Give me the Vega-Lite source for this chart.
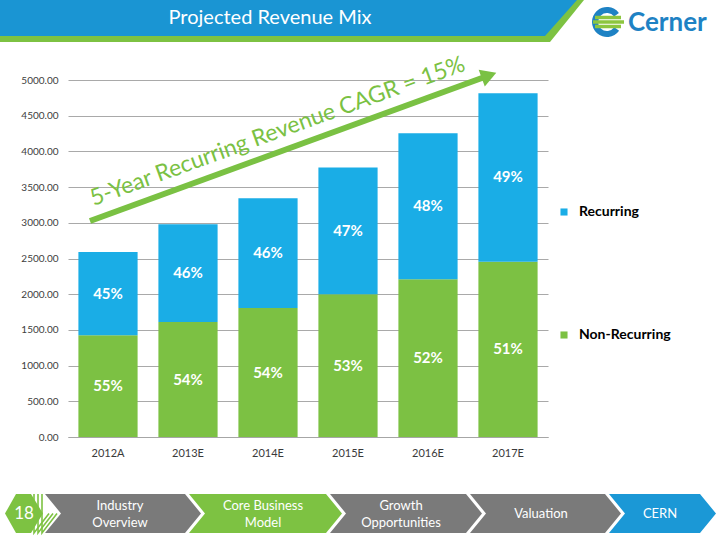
{
  "$schema": "https://vega.github.io/schema/vega-lite/v6.json",
  "width": 480,
  "height": 357,
  "autosize": {"type": "none"},
  "padding": {"left": 68, "top": 80, "right": 172, "bottom": 103},
  "background": "white",
  "config": {"view": {"stroke": null}, "font": "Lato"},
  "datasets": {
    "hdrBlue": [{"px": 0, "py": 0, "py2": 36}, {"px": 545, "py": 0, "py2": 36}, {"px": 577, "py": 0, "py2": 0}],
    "hdrGreen": [{"px": 0, "py": 0, "py2": 42}, {"px": 550, "py": 0, "py2": 42}, {"px": 584, "py": 0, "py2": 0}],
    "chevGray": [
      {"id": "a", "px": 45, "px2": 185, "py": 494}, {"id": "a", "px": 61, "px2": 201, "py": 513.5}, {"id": "a", "px": 45, "px2": 185, "py": 533},
      {"id": "c", "px": 330, "px2": 466, "py": 494}, {"id": "c", "px": 346, "px2": 482, "py": 513.5}, {"id": "c", "px": 330, "px2": 466, "py": 533},
      {"id": "d", "px": 470, "px2": 605, "py": 494}, {"id": "d", "px": 486, "px2": 621, "py": 513.5}, {"id": "d", "px": 470, "px2": 605, "py": 533}
    ],
    "chevGreen": [
      {"id": "h", "px": 16, "px2": 31, "py": 494}, {"id": "h", "px": 5, "px2": 43, "py": 513.5}, {"id": "h", "px": 16, "px2": 31, "py": 533},
      {"id": "b", "px": 189, "px2": 326, "py": 494}, {"id": "b", "px": 205, "px2": 342, "py": 513.5}, {"id": "b", "px": 189, "px2": 326, "py": 533}
    ],
    "chevBlue": [
      {"id": "e", "px": 609, "px2": 700, "py": 494}, {"id": "e", "px": 625, "px2": 716, "py": 513.5}, {"id": "e", "px": 609, "px2": 700, "py": 533}
    ],
    "chevLines": [
      {"id": "l1", "px": 34, "py": 494}, {"id": "l1", "px": 49, "py": 513.5}, {"id": "l1", "px": 34, "py": 533},
      {"id": "l2", "px": 38, "py": 494}, {"id": "l2", "px": 53, "py": 513.5}, {"id": "l2", "px": 38, "py": 533},
      {"id": "l3", "px": 42, "py": 494}, {"id": "l3", "px": 57, "py": 513.5}, {"id": "l3", "px": 42, "py": 533}
    ],
    "footText": [
      {"px": 120, "py": 506, "label": "Industry"}, {"px": 120, "py": 523, "label": "Overview"},
      {"px": 263, "py": 506, "label": "Core Business"}, {"px": 263, "py": 523, "label": "Model"},
      {"px": 401, "py": 506, "label": "Growth"}, {"px": 401, "py": 523, "label": "Opportunities"},
      {"px": 541, "py": 514, "label": "Valuation"}, {"px": 660, "py": 514, "label": "CERN"}
    ],
    "pageNum": [{"px": 24, "py": 514, "label": "18"}],
    "title": [{"px": 270, "py": 18, "label": "Projected Revenue Mix"}],
    "brand": [{"px": 628, "py": 23, "label": "Cerner"}],
    "logoArc": [{"px": 607, "py": 22}],
    "logoStripes": [{"px": 595, "px2": 621, "py": 17.5}, {"px": 593, "px2": 624, "py": 22}, {"px": 595, "px2": 621, "py": 26.5}],
    "arrow": [{"px": 90, "py": 221}, {"px": 486, "py": 76.5}],
    "arrowHead": [{"px": 489, "py": 75.5}],
    "annot": [{"px": 280, "py": 138, "label": "5-Year Recurring Revenue CAGR = 15%"}]
  },
  "layer": [
    {
      "data": {"values": [
        {"year": "2012A", "type": "Non-Recurring", "value": 1425, "pct": "55%"},
        {"year": "2012A", "type": "Recurring", "value": 1165, "pct": "45%"},
        {"year": "2013E", "type": "Non-Recurring", "value": 1610, "pct": "54%"},
        {"year": "2013E", "type": "Recurring", "value": 1370, "pct": "46%"},
        {"year": "2014E", "type": "Non-Recurring", "value": 1805, "pct": "54%"},
        {"year": "2014E", "type": "Recurring", "value": 1540, "pct": "46%"},
        {"year": "2015E", "type": "Non-Recurring", "value": 2000, "pct": "53%"},
        {"year": "2015E", "type": "Recurring", "value": 1775, "pct": "47%"},
        {"year": "2016E", "type": "Non-Recurring", "value": 2210, "pct": "52%"},
        {"year": "2016E", "type": "Recurring", "value": 2045, "pct": "48%"},
        {"year": "2017E", "type": "Non-Recurring", "value": 2455, "pct": "51%"},
        {"year": "2017E", "type": "Recurring", "value": 2360, "pct": "49%"}
      ]},
      "transform": [
        {"stack": "value", "groupby": ["year"], "sort": [{"field": "type", "order": "ascending"}], "as": ["v0", "v1"]},
        {"calculate": "(datum.v0 + datum.v1) / 2", "as": "mid"}
      ],
      "encoding": {
        "x": {"field": "year", "type": "nominal", "sort": null,
          "scale": {"paddingInner": 0.26, "paddingOuter": 0.13},
          "axis": {"title": null, "labelAngle": 0, "ticks": false, "domainColor": "#a6a6a6", "labelPadding": 10, "labelFontSize": 11, "labelColor": "#3a3a3a", "grid": false}},
        "y": {"field": "v1", "type": "quantitative", "scale": {"domain": [0, 5000], "nice": false},
          "axis": {"title": null, "values": [0, 500, 1000, 1500, 2000, 2500, 3000, 3500, 4000, 4500, 5000], "tickCount": 11, "format": ".2f", "labelOverlap": false, "domain": false, "ticks": false, "labelPadding": 10, "labelFontSize": 10, "labelColor": "#404040", "grid": true, "gridColor": "#a9a9a9"}}
      },
      "layer": [
        {
          "mark": {"type": "bar"},
          "encoding": {
            "y2": {"field": "v0"},
            "color": {"field": "type", "type": "nominal",
              "scale": {"domain": ["Recurring", "Non-Recurring"], "range": ["#1aade6", "#7cc143"]},
              "legend": {"title": null, "orient": "none", "legendX": 489, "legendY": 125, "symbolType": "square", "symbolSize": 50, "symbolStrokeWidth": 0, "labelFontSize": 14, "labelFontWeight": "bold", "labelColor": "black", "rowPadding": 109, "labelOffset": 8}}
          }
        },
        {
          "mark": {"type": "text", "color": "white", "fontSize": 15, "fontWeight": "bold", "baseline": "middle"},
          "encoding": {
            "y": {"field": "mid", "type": "quantitative", "scale": {"domain": [0, 5000], "nice": false},
              "axis": {"title": null, "values": [0, 500, 1000, 1500, 2000, 2500, 3000, 3500, 4000, 4500, 5000], "tickCount": 11, "format": ".2f", "labelOverlap": false, "domain": false, "ticks": false, "labelPadding": 10, "labelFontSize": 10, "labelColor": "#404040", "grid": true, "gridColor": "#a9a9a9"}},
            "text": {"field": "pct"}
          }
        }
      ]
    },
    {
      "encoding": {
        "x": {"field": "px", "type": "quantitative", "scale": {"domain": [68, 548], "range": [0, 480], "zero": false, "nice": false}, "axis": null, "stack": null},
        "y": {"field": "py", "type": "quantitative", "scale": {"domain": [80, 437], "range": [0, 357], "zero": false, "nice": false}, "axis": null, "stack": null}
      },
      "layer": [
        {"data": {"name": "hdrGreen"}, "mark": {"type": "area", "color": "#7dc242", "orient": "vertical"}, "encoding": {"y2": {"field": "py2"}}},
        {"data": {"name": "hdrBlue"}, "mark": {"type": "area", "color": "#1a95d3", "orient": "vertical"}, "encoding": {"y2": {"field": "py2"}}},
        {"data": {"name": "title"}, "mark": {"type": "text", "color": "white", "fontSize": 20, "baseline": "middle", "align": "center"}, "encoding": {"text": {"field": "label"}}},
        {"data": {"name": "logoArc"}, "mark": {"type": "arc", "color": "#1e82c4", "theta": 2.2, "theta2": 7.2, "innerRadius": 9, "outerRadius": 15}},
        {"data": {"name": "logoStripes"}, "mark": {"type": "rule", "color": "#8dc63f", "strokeWidth": 3.5}, "encoding": {"x2": {"field": "px2"}}},
        {"data": {"name": "brand"}, "mark": {"type": "text", "color": "#1e82c4", "fontSize": 26, "fontWeight": "bold", "baseline": "middle", "align": "left"}, "encoding": {"text": {"field": "label"}}},
        {"data": {"name": "chevGray"}, "mark": {"type": "area", "color": "#7a7a7a", "orient": "horizontal"}, "encoding": {"x2": {"field": "px2"}, "detail": {"field": "id"}}},
        {"data": {"name": "chevGreen"}, "mark": {"type": "area", "color": "#7dc242", "orient": "horizontal"}, "encoding": {"x2": {"field": "px2"}, "detail": {"field": "id"}}},
        {"data": {"name": "chevBlue"}, "mark": {"type": "area", "color": "#1b98d6", "orient": "horizontal"}, "encoding": {"x2": {"field": "px2"}, "detail": {"field": "id"}}},
        {"data": {"name": "chevLines"}, "mark": {"type": "line", "color": "#7dc242", "strokeWidth": 1.6}, "encoding": {"detail": {"field": "id"}}},
        {"data": {"name": "footText"}, "mark": {"type": "text", "color": "white", "fontSize": 13, "baseline": "middle", "align": "center"}, "encoding": {"text": {"field": "label"}}},
        {"data": {"name": "pageNum"}, "mark": {"type": "text", "color": "white", "fontSize": 17, "baseline": "middle", "align": "center"}, "encoding": {"text": {"field": "label"}}},
        {"data": {"name": "arrow"}, "mark": {"type": "line", "color": "#7ac143", "strokeWidth": 6}, "encoding": {}},
        {"data": {"name": "arrowHead"}, "mark": {"type": "point", "shape": "triangle-right", "filled": true, "color": "#7ac143", "size": 320, "angle": -20, "opacity": 1}},
        {"data": {"name": "annot"}, "mark": {"type": "text", "color": "#7ac143", "fontSize": 23, "angle": -20, "baseline": "alphabetic", "align": "center"}, "encoding": {"text": {"field": "label"}}}
      ]
    }
  ],
  "resolve": {"scale": {"x": "independent", "y": "independent"}}
}
